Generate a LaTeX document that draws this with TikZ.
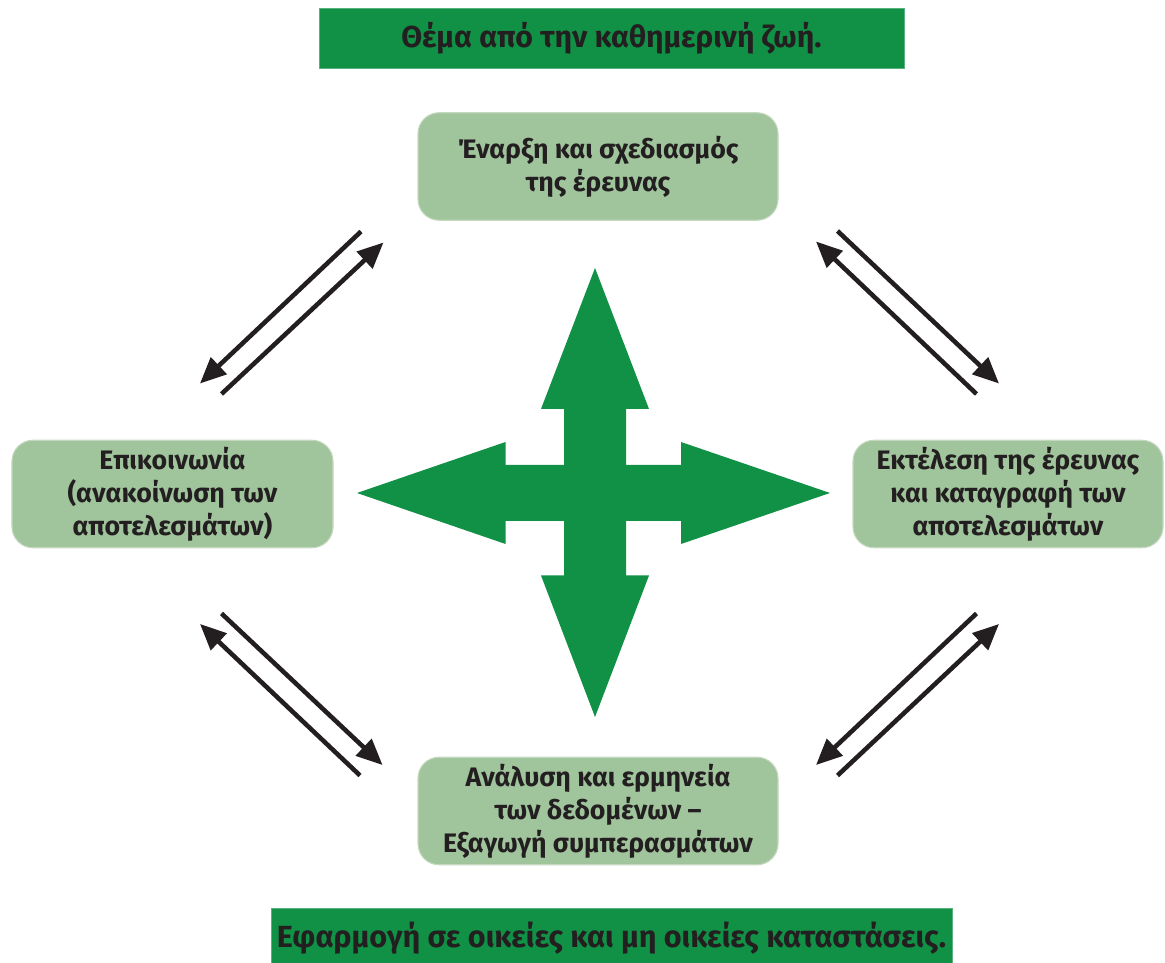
\documentclass[tikz,border=0pt]{standalone}
\usepackage{fontspec}
\setmainfont{Fira Sans}
\usepackage{tikz}
\usetikzlibrary{arrows.meta,positioning,calc}
\usepackage{xcolor}
\definecolor{themecolor}{RGB}{16,145,69}
\definecolor{stepcolor}{RGB}{160,196,156}
\definecolor{stepedge}{RGB}{196,216,190}
\definecolor{textcolor}{RGB}{35,31,32}

\begin{document}
\begin{tikzpicture}[
    banner/.style={rectangle, fill=themecolor, draw=themecolor!70!white, line width=0.4pt, text=textcolor, font=\bfseries},
    stage/.style={rectangle, rounded corners=0.42cm, fill=stepcolor, draw=stepedge, line width=0.6pt, text=textcolor, align=center, minimum height=2.15cm, font=\fontsize{15.2}{18.8}\selectfont\bfseries},
    cycle/.style={-{Triangle[length=0.52cm, width=0.45cm]}, line width=2.6pt, textcolor}
]
\useasboundingbox (0,0) rectangle (23.3,19.26);

% Top and bottom banners
\node[banner, minimum width=11.7cm, minimum height=1.2cm, font=\fontsize{17.2}{20}\selectfont\bfseries] (theme) at (12.23,18.50) {Θέμα από την καθημερινή ζωή.};
\node[banner, minimum width=13.54cm, minimum height=1.2cm, font=\fontsize{17.4}{20}\selectfont\bfseries] (apply) at (12.23,0.50) {Εφαρμογή σε οικείες και μη οικείες καταστάσεις.};

% Research stages
\node[stage, minimum width=7.2cm] (plan) at (11.96,15.93) {Έναρξη και σχεδιασμός\\της έρευνας};
\node[stage, minimum width=6.2cm] (exec) at (20.16,9.38) {Εκτέλεση της έρευνας\\και καταγραφή των\\αποτελεσμάτων};
\node[stage, minimum width=7.2cm] (anal) at (11.96,3.04) {Ανάλυση και ερμηνεία\\των δεδομένων --\\Εξαγωγή συμπερασμάτων};
\node[stage, minimum width=6.42cm] (comm) at (3.45,9.38) {Επικοινωνία\\(ανακοίνωση των\\αποτελεσμάτων)};

% Central four-way arrow
\fill[themecolor, shift={(11.9,9.4)}] (0,4.5) -- (1.08,1.68) -- (0.62,1.68) -- (0.62,0.56) -- (1.72,0.56) -- (1.72,1.02) -- (4.7,0)
    -- (1.72,-1.02) -- (1.72,-0.56) -- (0.62,-0.56) -- (0.62,-1.65) -- (1.08,-1.65) -- (0,-4.48)
    -- (-1.08,-1.65) -- (-0.62,-1.65) -- (-0.62,-0.56) -- (-1.79,-0.56) -- (-1.79,-1.02) -- (-4.76,0)
    -- (-1.79,1.02) -- (-1.79,0.56) -- (-0.62,0.56) -- (-0.62,1.68) -- (-1.08,1.68) -- cycle;

% Arrow end points
\coordinate (pc1) at (7.22,14.63); \coordinate (cp1) at (4.00,11.59);
\coordinate (cp2) at (4.43,11.38); \coordinate (pc2) at (7.67,14.41);
\coordinate (pe1) at (16.75,14.64); \coordinate (ep1) at (19.98,11.59);
\coordinate (ep2) at (19.53,11.38); \coordinate (pe2) at (16.32,14.43);
\coordinate (ca1) at (4.43,6.99); \coordinate (ac1) at (7.65,3.96);
\coordinate (ac2) at (7.20,3.75); \coordinate (ca2) at (4.00,6.78);
\coordinate (ea1) at (19.53,6.99); \coordinate (ae1) at (16.32,3.96);
\coordinate (ae2) at (16.75,3.75); \coordinate (ea2) at (19.98,6.78);

% Two-way arrows between stages
\draw[cycle] (pc1) -- (cp1);
\draw[cycle] (cp2) -- (pc2);
\draw[cycle] (pe1) -- (ep1);
\draw[cycle] (ep2) -- (pe2);
\draw[cycle] (ca1) -- (ac1);
\draw[cycle] (ac2) -- (ca2);
\draw[cycle] (ea1) -- (ae1);
\draw[cycle] (ae2) -- (ea2);

\end{tikzpicture}
\end{document}
